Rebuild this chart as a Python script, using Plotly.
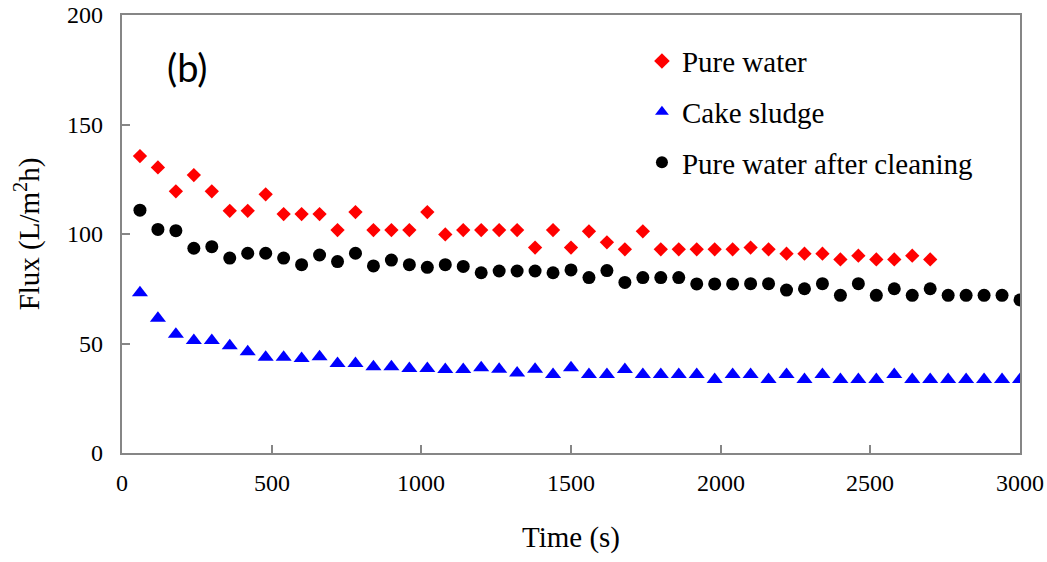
import plotly.graph_objects as go

time_pure = [60 * i for i in range(1, 46)]
time_full = [60 * i for i in range(1, 51)]

pure_water = [135.6, 130.4, 119.5, 126.9, 119.5, 110.6, 110.6, 118.1, 109.1, 109.1,
              109.1, 101.8, 110.0, 101.8, 101.8, 101.8, 110.0, 99.8, 101.8, 101.8,
              101.8, 101.8, 93.8, 101.8, 93.8, 101.2, 96.2, 93.0, 101.2, 93.0,
              93.0, 93.0, 93.0, 93.0, 93.8, 93.0, 91.0, 91.0, 91.0, 88.4,
              90.1, 88.4, 88.4, 90.1, 88.4]

cake_sludge = [73.2, 61.5, 54.2, 51.4, 51.4, 49.0, 46.2, 43.7, 43.7, 43.2,
               44.0, 40.9, 40.9, 39.4, 39.4, 38.6, 38.6, 38.1, 38.1, 38.9,
               38.2, 36.5, 38.2, 35.8, 38.9, 35.9, 35.9, 38.1, 35.9, 35.9,
               35.9, 35.9, 33.6, 35.9, 35.9, 33.6, 35.9, 33.6, 35.9, 33.6,
               33.6, 33.6, 35.9, 33.6, 33.6, 33.6, 33.6, 33.6, 33.6, 33.6]

after_cleaning = [110.9, 102.1, 101.5, 93.5, 94.2, 89.0, 91.2, 91.2, 89.0, 86.0,
                  90.4, 87.4, 91.2, 85.4, 88.1, 86.0, 84.8, 86.0, 85.2, 82.3,
                  83.1, 83.1, 83.1, 82.3, 83.6, 80.1, 83.3, 77.9, 80.1, 80.1,
                  80.1, 77.2, 77.2, 77.2, 77.3, 77.3, 74.4, 75.0, 77.3, 72.0,
                  77.3, 72.0, 75.0, 72.0, 75.0, 72.0, 72.0, 72.0, 72.0, 69.9]

x_ticks = [0, 500, 1000, 1500, 2000, 2500, 3000]
y_ticks = [0, 50, 100, 150, 200]

serif = "Liberation Serif"
tick_font = dict(family=serif, size=24, color="#000000")

fig = go.Figure()
fig.add_trace(go.Scatter(x=time_pure, y=pure_water, mode="markers", name="Pure water",
                         legendgroup="a",
                         marker=dict(symbol="diamond", size=11, color="#ff0000")))
fig.add_trace(go.Scatter(x=time_full, y=cake_sludge, mode="markers", name="Cake sludge",
                         legendgroup="b",
                         marker=dict(symbol="triangle-up", size=14, color="#0000ff")))
fig.add_trace(go.Scatter(x=time_full, y=after_cleaning, mode="markers",
                         name="Pure water after cleaning", legendgroup="c",
                         marker=dict(symbol="circle", size=13, color="#000000")))

fig.update_layout(
    template="none",
    width=1047, height=562,
    margin=dict(l=122, r=27, t=15, b=109),
    paper_bgcolor="white", plot_bgcolor="white",
    font=dict(family=serif, size=24, color="#000000"),
    showlegend=True,
    xaxis=dict(range=[0, 3000], tickmode="array", tickvals=x_ticks,
               showticklabels=False, automargin=False,
               showline=True, linecolor="#868686", linewidth=1.5, mirror=True,
               ticks="inside", ticklen=8, tickcolor="#868686", tickwidth=1.5,
               showgrid=False, zeroline=False,
               title=dict(text="Time (s)", standoff=73,
                          font=dict(family=serif, size=29, color="#000000"))),
    yaxis=dict(range=[0, 200], tickmode="array", tickvals=y_ticks,
               showticklabels=False, automargin=False,
               showline=True, linecolor="#868686", linewidth=1.5, mirror=True,
               ticks="inside", ticklen=8, tickcolor="#868686", tickwidth=1.5,
               showgrid=False, zeroline=False,
               title=dict(text="Flux (L/m<sup>2</sup>h)", standoff=72,
                          font=dict(family=serif, size=29, color="#000000"))),
    legend=dict(x=0.579, y=0.953, xanchor="left", yanchor="top",
                font=dict(family=serif, size=29, color="#000000"),
                bgcolor="rgba(0,0,0,0)", tracegroupgap=10, itemsizing="constant"),
)

# tick labels, placed on the axes' own scales
for v in x_ticks:
    fig.add_annotation(text=str(v), x=v, xref="x", y=0, yref="paper",
                       xanchor="center", yanchor="top", yshift=-15, showarrow=False,
                       font=tick_font)
for v in y_ticks:
    fig.add_annotation(text=str(v), x=0, xref="paper", y=v, yref="y",
                       xanchor="right", yanchor="middle", xshift=-17, showarrow=False,
                       font=tick_font)

fig.add_annotation(text="(b)", xref="paper", yref="paper", x=0.072, y=0.881,
                   xanchor="center", yanchor="middle", showarrow=False,
                   font=dict(family="Lato", size=38, color="#000000"))

fig.write_html("out.html")
